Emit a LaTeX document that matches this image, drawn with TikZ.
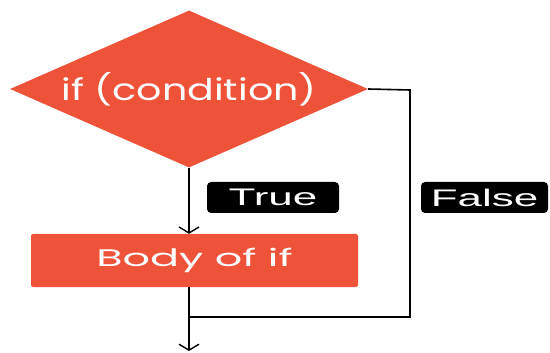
\documentclass[tikz,border=0pt]{standalone}
\usepackage{fontspec}
\setmainfont{Poppins}
\newfontfamily\tagfont{Liberation Sans}
\usetikzlibrary{shapes.geometric,arrows.meta}
\definecolor{flowred}{HTML}{EE533A}
\newcommand{\wide}[2]{\scalebox{#1}[1]{#2}}
\tikzset{
  conn/.style={draw=black,line width=1.6pt},
  arr/.style={-{Straight Barb[length=6pt,width=20pt,line width=1.4pt]}},
  redshape/.style={fill=flowred,text=white,inner sep=0pt},
  tag/.style={fill=black,text=white,rounded corners=4pt,inner sep=0pt,font=\tagfont\fontsize{24}{26}\selectfont}
}
\begin{document}
\begin{tikzpicture}[x=1pt,y=-1pt]
\useasboundingbox (0,0) rectangle (550,353);
\node[redshape,diamond,aspect=2.28,minimum width=358pt,minimum height=157pt,font=\fontsize{30}{32}\selectfont] (cond) at (189,89) {\wide{1.32}{if (condition)}};
\node[redshape,rectangle,rounded corners=2pt,minimum width=327pt,minimum height=53pt,font=\fontsize{24}{28}\selectfont] (body) at (194.5,260.5) {\wide{1.79}{Body of if}};
\node[tag,minimum width=132pt,minimum height=31pt] (true) at (273,197.5) {\wide{1.83}{True}};
\node[tag,minimum width=127pt,minimum height=31pt] (false) at (484.5,197.5) {\wide{1.83}{False}};
\coordinate (c1) at (410,90);
\coordinate (c2) at (410,317);
\coordinate (j) at (189,317);
\coordinate (endp) at (189,351);
\draw[conn,arr] (cond.south) -- (cond.south |- body.north);
\draw[conn] (cond.east) -- (c1) -- (c2) -- (j);
\draw[conn] (cond.south |- body.south) -- (j);
\draw[conn,arr] (j) -- (endp);
\end{tikzpicture}
\end{document}
